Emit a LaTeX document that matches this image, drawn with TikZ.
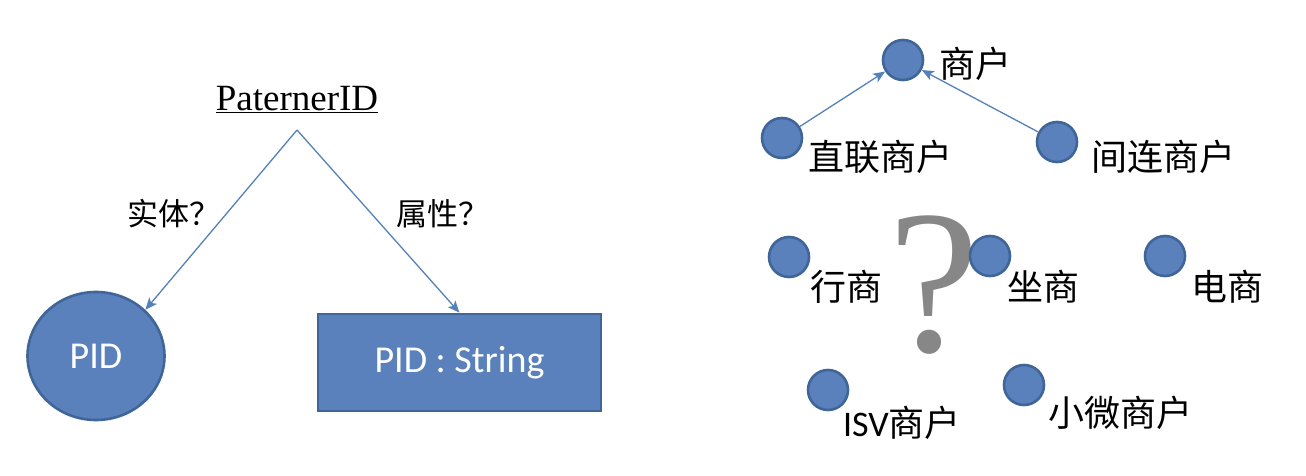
\documentclass[tikz,border=0pt]{standalone}
\usepackage{fontspec}
\setmainfont{Liberation Serif}
\newfontfamily\cjk{Noto Sans CJK SC}
\newfontfamily\calb{Carlito}
\usetikzlibrary{arrows.meta,shapes.geometric}
\definecolor{fillb}{HTML}{5A81BC}
\definecolor{edgeb}{HTML}{3F6599}
\definecolor{lineb}{HTML}{5480BB}
\definecolor{qgray}{HTML}{878787}
\tikzset{
  dot/.style={circle, minimum size=40pt, inner sep=0pt, fill=fillb, draw=edgeb, line width=2.6pt},
  cjklab/.style={font=\cjk\fontsize{36}{42}\selectfont, inner sep=0pt},
  cjkmid/.style={font=\cjk\fontsize{31}{36}\selectfont, inner sep=0pt},
  arr/.style={draw=lineb, line width=1.3pt, -{Stealth[length=12pt,width=10pt,inset=3pt]}},
  shapebox/.style={fill=fillb, draw=edgeb, line width=2.6pt, text=white, font=\calb\fontsize{38}{44}\selectfont}
}
\begin{document}
\begin{tikzpicture}[x=1pt,y=-1pt]
\useasboundingbox (0,0) rectangle (1306,476);
% left part
\node[font=\fontsize{37}{44}\selectfont, inner sep=0pt] (pt) at (297,100) {\underline{PaternerID}};
\coordinate (apex) at (297,130);
\node[shapebox, ellipse, minimum width=137pt, minimum height=128pt, inner sep=0pt] (pid) at (96,356) {PID};
\node[shapebox, rectangle, minimum width=283pt, minimum height=97pt, inner sep=0pt] (str) at (459.5,362.5) {PID : String};
\draw[arr] (apex) -- (pid.north east);
\draw[arr] (apex) -- (str.north);
\node[cjkmid] (l1) at (174,214) {实体？};
\node[cjkmid] (l2) at (443,214) {属性？};
% right part
\node[dot] (sh) at (903,60) {};
\node[cjklab] (shl) at (975,64) {商户};
\node[dot] (zl) at (782,138) {};
\node[cjklab] (zll) at (880,157) {直联商户};
\node[dot] (jl) at (1057,142) {};
\node[cjklab] (jll) at (1163,157) {间连商户};
\draw[arr] (zl) -- (sh);
\draw[arr] (jl) -- (sh);
\node[font=\fontsize{205}{210}\selectfont, text=qgray, inner sep=0pt] (q) at (934,285) {?};
\node[dot] (xs) at (789,257) {};
\node[cjklab] (xsl) at (846,287) {行商};
\node[dot] (zs) at (990,256) {};
\node[cjklab] (zsl) at (1043,287) {坐商};
\node[dot] (ds) at (1165,256) {};
\node[cjklab] (dsl) at (1227,287) {电商};
\node[dot] (isv) at (828,390) {};
\node[cjklab] (isvl) at (902,423) {{\calb ISV}商户};
\node[dot] (xw) at (1024,385) {};
\node[cjklab] (xwl) at (1120,413) {小微商户};
\end{tikzpicture}
\end{document}
